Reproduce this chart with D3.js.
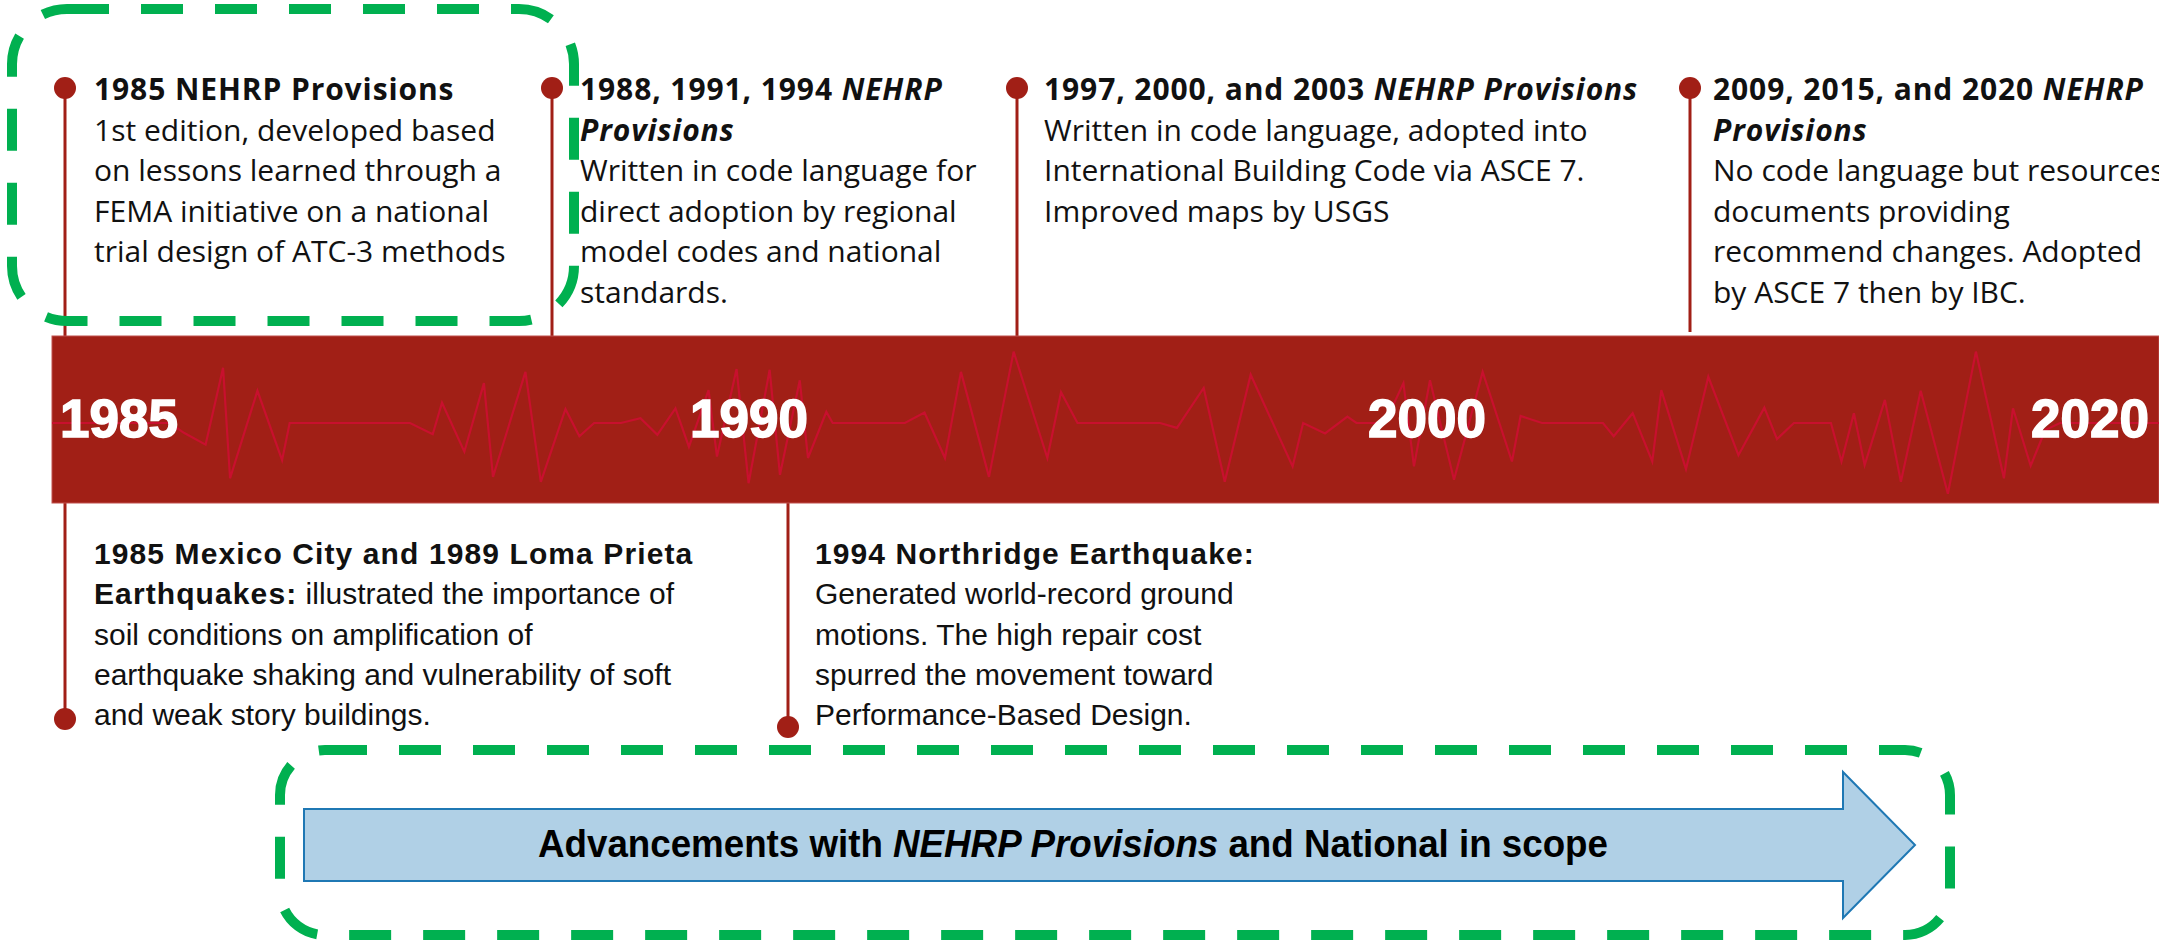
<!DOCTYPE html>
<html lang="en">
<head>
<meta charset="utf-8">
<title>NEHRP Provisions timeline</title>
<script src="https://cdn.jsdelivr.net/npm/d3@7"></script>
<style>
  body { margin: 0; background: #fff; overflow: hidden; }
  text { white-space: pre; }
  .top-text { font-family: "Open Sans", sans-serif; font-size: 30px; fill: #111; }
  .top-text .bold { letter-spacing: 0.9px; }
  .bottom-text { font-family: "Liberation Sans", Arial, sans-serif; font-size: 30px; fill: #111; }
  .bottom-text .bold { letter-spacing: 1.1px; }
  .year { font-family: "Liberation Sans", Arial, sans-serif; font-weight: bold; font-size: 53px;
          fill: #fff; stroke: #fff; stroke-width: 1.5px; }
  .arrow-text { font-family: "Liberation Sans", Arial, sans-serif; font-weight: bold;
                font-size: 38px; fill: #000; }
</style>
</head>
<body>
<svg width="2159" height="942"></svg>
<script>
// ---- data ----
// seismograph trace drawn inside the band: position (% of band length), amplitude (-1..1)
var wavePos = [0, 5.6, 6.26, 7.29, 8.12, 8.45, 9.75, 10.92, 11.28, 16.99,
  18.07, 18.51, 19.57, 20.5, 20.93, 22.47, 23.2, 24.37, 25.03, 25.73,
  27.0, 27.93, 28.73, 29.59, 30.23, 31.16, 31.56, 32.49, 33.06, 34.06,
  34.55, 35.49, 35.88, 36.75, 37.05, 40.48, 41.41, 42.38, 43.14, 44.47,
  45.64, 47.24, 47.89, 48.67, 52.59, 53.39, 54.66, 55.66, 56.89, 58.88,
  59.38, 60.42, 61.48, 61.91, 63.26, 64.14, 64.64, 65.4, 66.54, 67.9,
  69.29, 69.7, 70.72, 73.61, 74.12, 75.02, 75.95, 76.38, 77.55, 78.61,
  80.04, 81.27, 81.87, 82.67, 84.43, 84.93, 85.52, 86.03, 86.99, 87.75,
  88.69, 89.98, 91.31, 92.64, 93.07, 93.91, 94.6, 95.3, 100];
var waveAmp = [0, 0, -0.14, -0.31, 0.79, -0.79, 0.46, -0.53, 0, 0,
  -0.16, 0.29, -0.41, 0.57, -0.77, 0.73, -0.84, 0.2, -0.19, 0,
  0, 0.07, -0.17, 0.21, -0.34, 0.47, -0.48, 0.77, -0.86, 0.76,
  -0.74, 0.61, -0.5, 0.16, 0, 0, 0.15, -0.5, 0.73, -0.77,
  1.02, -0.5, 0.44, 0, 0, -0.07, 0.5, -0.84, 0.69, -0.62,
  0, -0.15, 0.09, 0, 0, 0.57, -0.62, 0.61, -0.81, 0.73,
  -0.55, 0.1, 0, 0, -0.19, 0.14, -0.55, 0.47, -0.66, 0.66,
  -0.46, 0.22, -0.23, 0, 0, -0.55, 0.14, -0.6, 0.33, -0.84,
  0.46, -1.01, 1.02, -0.79, 0.21, -0.61, -0.1, 0, 0];

var yearTicks = [1985, 1990, 2000, 2020];
var yearTickLabels = ["1985", "1990", "2000", "2020"];

// text runs: b = bold, i = italic
var topEvents = [
  [[{t: "1985 NEHRP Provisions", b: 1}],
   [{t: "1st edition, developed based"}],
   [{t: "on lessons learned through a"}],
   [{t: "FEMA initiative on a national"}],
   [{t: "trial design of ATC-3 methods"}]],
  [[{t: "1988, 1991, 1994 ", b: 1}, {t: "NEHRP", b: 1, i: 1}],
   [{t: "Provisions", b: 1, i: 1}],
   [{t: "Written in code language for"}],
   [{t: "direct adoption by regional"}],
   [{t: "model codes and national"}],
   [{t: "standards."}]],
  [[{t: "1997, 2000, and 2003 ", b: 1}, {t: "NEHRP Provisions", b: 1, i: 1}],
   [{t: "Written in code language, adopted into"}],
   [{t: "International Building Code via ASCE 7."}],
   [{t: "Improved maps by USGS"}]],
  [[{t: "2009, 2015, and 2020 ", b: 1}, {t: "NEHRP", b: 1, i: 1}],
   [{t: "Provisions", b: 1, i: 1}],
   [{t: "No code language but resources"}],
   [{t: "documents providing"}],
   [{t: "recommend changes. Adopted"}],
   [{t: "by ASCE 7 then by IBC."}]]
];

var bottomEvents = [
  [[{t: "1985 Mexico City and 1989 Loma Prieta", b: 1}],
   [{t: "Earthquakes:", b: 1}, {t: " illustrated the importance of"}],
   [{t: "soil conditions on amplification of"}],
   [{t: "earthquake shaking and vulnerability of soft"}],
   [{t: "and weak story buildings."}]],
  [[{t: "1994 Northridge Earthquake:", b: 1}],
   [{t: "Generated world-record ground"}],
   [{t: "motions. The high repair cost"}],
   [{t: "spurred the movement toward"}],
   [{t: "Performance-Based Design."}]]
];

var arrowLabel = [{t: "Advancements with "}, {t: "NEHRP Provisions", i: 1}, {t: " and National in scope"}];

// ---- layout ----
var band = {x0: 52, x1: 2159, y0: 336, y1: 503};
var red = "#A11F16", green = "#00B050";
var topStemX = [65, 552, 1017, 1690], topTextX = [94, 580, 1044, 1713];
var bottomStemX = [65, 788], bottomTextX = [94, 815], bottomDotY = [719, 727];

var svg = d3.select("svg");

var xw = d3.scaleLinear().domain([0, 100]).range([band.x0, band.x1]);
var yw = d3.scaleLinear().domain([-1, 1]).range([493, 353]);
var xYear = d3.scaleLinear().domain(yearTicks).range([60, 690, 1368, 2031]);

// stems + dots
var stems = svg.append("g");
topStemX.forEach(function(x, i) {
  stems.append("line").attr("x1", x).attr("x2", x).attr("y1", 88).attr("y2", i == 3 ? 332 : band.y0)
    .attr("stroke", red).attr("stroke-width", 3);
  stems.append("circle").attr("cx", x).attr("cy", 88).attr("r", 11).attr("fill", red);
});
bottomStemX.forEach(function(x, i) {
  stems.append("line").attr("x1", x).attr("x2", x).attr("y1", band.y1).attr("y2", bottomDotY[i])
    .attr("stroke", red).attr("stroke-width", 3);
  stems.append("circle").attr("cx", x).attr("cy", bottomDotY[i]).attr("r", 11).attr("fill", red);
});

// band
svg.append("rect").attr("x", band.x0).attr("y", band.y0)
  .attr("width", band.x1 - band.x0).attr("height", band.y1 - band.y0)
  .attr("fill", red).attr("stroke", "#c0504d").attr("stroke-width", 1);

var line = d3.line().x(function(d) { return xw(d[0]); }).y(function(d) { return yw(d[1]); });
svg.append("path")
  .attr("d", line(d3.zip(wavePos, waveAmp)))
  .attr("fill", "none").attr("stroke", "#C8102E").attr("stroke-width", 2.2)
  .attr("stroke-linejoin", "miter");

svg.selectAll(".year").data(yearTicks).enter().append("text")
  .attr("class", "year")
  .attr("x", function(d) { return xYear(d); })
  .attr("y", 437)
  .text(function(d, i) { return yearTickLabels[i]; });

// text blocks
function drawBlock(lines, x, y0, lh, cls) {
  var g = svg.append("g").attr("class", cls);
  lines.forEach(function(runs, li) {
    var t = g.append("text").attr("x", x).attr("y", y0 + li * lh);
    runs.forEach(function(r) {
      t.append("tspan")
        .attr("class", r.b ? "bold" : null)
        .attr("font-weight", r.b ? "bold" : "normal")
        .attr("font-style", r.i ? "italic" : "normal")
        .text(r.t);
    });
  });
}
topEvents.forEach(function(ev, i) { drawBlock(ev, topTextX[i], 100, 40.6, "top-text"); });
bottomEvents.forEach(function(ev, i) { drawBlock(ev, bottomTextX[i], 564, 40.3, "bottom-text"); });

// arrow
var ar = {x0: 304, x1: 1843, tip: 1915, y0: 809, y1: 881, h0: 772, h1: 918};
var ym = (ar.y0 + ar.y1) / 2;
svg.append("path")
  .attr("d", d3.line()([[ar.x0, ar.y0], [ar.x1, ar.y0], [ar.x1, ar.h0], [ar.tip, ym],
                        [ar.x1, ar.h1], [ar.x1, ar.y1], [ar.x0, ar.y1]]) + "Z")
  .attr("fill", "#B0D0E6").attr("stroke", "#1F78B4").attr("stroke-width", 2);
var at = svg.append("text").attr("class", "arrow-text")
  .attr("x", 538).attr("y", 857)
  .attr("textLength", 1070).attr("lengthAdjust", "spacingAndGlyphs");
arrowLabel.forEach(function(r) {
  at.append("tspan").attr("font-style", r.i ? "italic" : "normal").text(r.t);
});

// green dashed highlight boxes
svg.append("rect").attr("x", 12).attr("y", 9).attr("width", 562).attr("height", 312)
  .attr("rx", 55).attr("ry", 55)
  .attr("fill", "none").attr("stroke", green).attr("stroke-width", 10).attr("stroke-dasharray", "42 32");
svg.append("rect").attr("x", 280).attr("y", 750).attr("width", 1670).attr("height", 185)
  .attr("rx", 45).attr("ry", 45)
  .attr("fill", "none").attr("stroke", green).attr("stroke-width", 10).attr("stroke-dasharray", "42 32");
</script>
</body>
</html>
